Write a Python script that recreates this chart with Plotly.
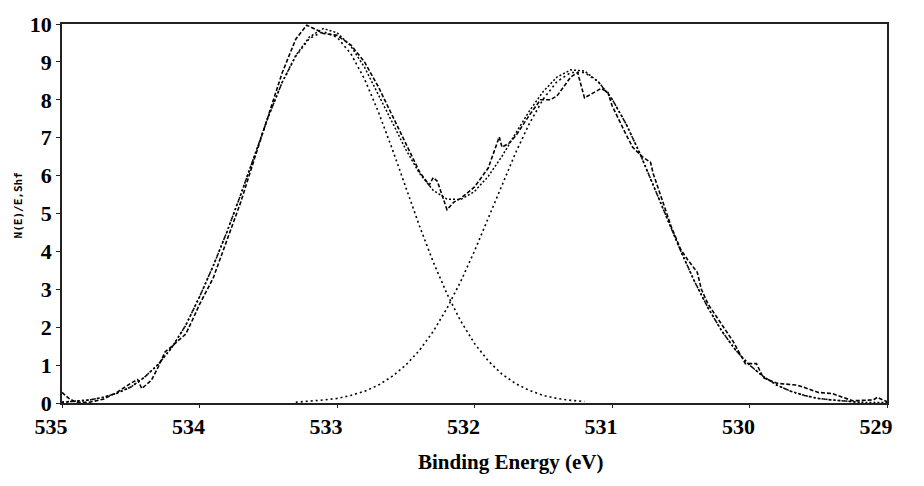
import plotly.graph_objects as go

# O 1s region: binding energy grid (eV) shared by the fitted curves
energy = [535.0, 534.9, 534.8, 534.7, 534.6, 534.5, 534.4, 534.3, 534.2, 534.1,
          534.0, 533.9, 533.8, 533.7, 533.6, 533.5, 533.4, 533.3, 533.2, 533.1,
          533.0, 532.9, 532.8, 532.7, 532.6, 532.5, 532.4, 532.3, 532.2, 532.1,
          532.0, 531.9, 531.8, 531.7, 531.6, 531.5, 531.4, 531.3, 531.2, 531.1,
          531.0, 530.9, 530.8, 530.7, 530.6, 530.5, 530.4, 530.3, 530.2, 530.1,
          530.0, 529.9, 529.8, 529.7, 529.6, 529.5, 529.4, 529.3, 529.2, 529.1,
          529.0]

# High binding-energy component (~533.1 eV)
peak_high = [0.02, 0.04, 0.08, 0.15, 0.26, 0.42, 0.68, 1.02, 1.47, 2.05,
             2.80, 3.62, 4.52, 5.50, 6.55, 7.55, 8.45, 9.15, 9.62, 9.80,
             9.65, 9.22, 8.55, 7.69, 6.72, 5.69, 4.67, 3.72, 2.88, 2.16,
             1.57, 1.11, 0.76, 0.51, 0.33, 0.20, 0.12, 0.07, 0.04, None,
             None, None, None, None, None, None, None, None, None, None,
             None, None, None, None, None, None, None, None, None, None,
             None]

# Low binding-energy component (~531.25 eV)
peak_low = [None, None, None, None, None, None, None, None, None, None,
            None, None, None, None, None, None, None, 0.02, 0.04, 0.08,
            0.12, 0.20, 0.31, 0.47, 0.70, 1.00, 1.39, 1.89, 2.50, 3.21,
            4.01, 4.87, 5.75, 6.61, 7.38, 8.02, 8.48, 8.72, 8.72, 8.48,
            8.02, 7.38, 6.61, 5.75, 4.87, 4.01, 3.21, 2.50, 1.89, 1.39,
            1.00, 0.70, 0.47, 0.31, 0.20, 0.12, 0.08, 0.04, 0.02, None,
            None]

# Fitted envelope
envelope = [0.02, 0.04, 0.08, 0.15, 0.26, 0.42, 0.68, 1.02, 1.47, 2.05,
            2.80, 3.62, 4.52, 5.50, 6.55, 7.55, 8.45, 9.17, 9.66, 9.88,
            9.77, 9.42, 8.86, 8.16, 7.42, 6.69, 6.06, 5.61, 5.38, 5.37,
            5.58, 5.98, 6.51, 7.12, 7.71, 8.22, 8.60, 8.79, 8.76, 8.48,
            8.02, 7.38, 6.61, 5.75, 4.87, 4.01, 3.21, 2.50, 1.89, 1.39,
            1.00, 0.70, 0.47, 0.31, 0.20, 0.12, 0.08, 0.04, 0.02, 0.01,
            0.01]

# Measured spectrum
data_energy = [535.0, 534.95, 534.9, 534.8, 534.7, 534.6, 534.5, 534.45, 534.42, 534.35,
               534.3, 534.25, 534.2, 534.1, 534.05, 534.0, 533.9, 533.8, 533.7, 533.6,
               533.5, 533.4, 533.3, 533.22, 533.15, 533.1, 533.0, 532.9, 532.8, 532.7,
               532.6, 532.5, 532.4, 532.33, 532.3, 532.27, 532.2, 532.15, 532.1, 532.0,
               531.9, 531.82, 531.8, 531.75, 531.7, 531.6, 531.52, 531.45, 531.4, 531.3,
               531.25, 531.2, 531.13, 531.08, 531.03, 531.0, 530.9, 530.85, 530.78, 530.72,
               530.7, 530.65, 530.57, 530.5, 530.45, 530.38, 530.35, 530.3, 530.2, 530.12,
               530.03, 529.95, 529.9, 529.8, 529.65, 529.5, 529.4, 529.3, 529.25, 529.1,
               529.07, 529.03, 529.0]
data_counts = [0.28, 0.12, 0.02, 0.02, 0.10, 0.28, 0.52, 0.62, 0.38, 0.60,
               0.95, 1.35, 1.50, 1.82, 2.20, 2.60, 3.30, 4.30, 5.30, 6.45,
               7.60, 8.70, 9.60, 9.97, 9.85, 9.75, 9.70, 9.45, 9.00, 8.35,
               7.60, 6.85, 6.10, 5.75, 5.95, 5.85, 5.10, 5.30, 5.40, 5.70,
               6.20, 7.02, 6.75, 6.85, 7.05, 7.60, 8.00, 8.00, 8.10, 8.60,
               8.72, 8.05, 8.20, 8.30, 8.20, 7.85, 7.10, 6.75, 6.50, 6.35,
               6.05, 5.50, 4.66, 4.05, 3.78, 3.45, 3.00, 2.60, 2.05, 1.63,
               1.04, 1.04, 0.67, 0.52, 0.47, 0.28, 0.25, 0.12, 0.06, 0.08,
               0.15, 0.08, 0.04]

x_ticks = [535, 534, 533, 532, 531, 530, 529]
y_ticks = [0, 1, 2, 3, 4, 5, 6, 7, 8, 9, 10]

fig = go.Figure()

fig.add_trace(go.Scatter(x=energy, y=peak_high, mode="lines",
                         line=dict(color="black", width=1.6, dash="2px,3px")))
fig.add_trace(go.Scatter(x=energy, y=peak_low, mode="lines",
                         line=dict(color="black", width=1.6, dash="2px,3px")))
fig.add_trace(go.Scatter(x=energy, y=envelope, mode="lines",
                         line=dict(color="black", width=1.5, dash="2px,2px")))
fig.add_trace(go.Scatter(x=data_energy, y=data_counts, mode="lines",
                         line=dict(color="black", width=1.6, dash="4px,2px")))

tick_font = dict(family="Liberation Serif, Times New Roman, serif", size=22, color="black")

fig.update_layout(
    width=924, height=486,
    margin=dict(l=62, r=37, t=18, b=83),
    paper_bgcolor="white", plot_bgcolor="white",
    showlegend=False,
    font=dict(family="Liberation Serif, serif", color="black"),
    xaxis=dict(
        range=[535, 529], tickvals=x_ticks, ticktext=[f"<b>{v}</b>" for v in x_ticks],
        tickfont=tick_font, showgrid=False, zeroline=False,
        showline=True, linecolor="#222", linewidth=1.5, mirror=True,
        ticks="outside", ticklen=3, tickcolor="#222", ticklabelshift=11,
    ),
    yaxis=dict(
        range=[0, 10], tickvals=y_ticks, ticktext=[f"<b>{v}</b>" for v in y_ticks],
        tickfont=tick_font, showgrid=False, zeroline=False,
        showline=True, linecolor="#222", linewidth=1.5, mirror=True,
        ticks="outside", ticklen=4, tickcolor="#222",
    ),
    annotations=[
        dict(text="<b>Binding Energy (eV)</b>", xref="paper", yref="paper",
             x=0.544, y=-0.155, xanchor="center", yanchor="middle", showarrow=False,
             font=dict(family="Liberation Serif, Times New Roman, serif", size=21, color="black")),
        dict(text="<b>N(E)/E,Shf</b>", xref="paper", yref="paper",
             x=-0.053, y=0.522, xanchor="center", yanchor="middle", showarrow=False,
             textangle=-90,
             font=dict(family="DejaVu Sans Mono, monospace", size=11, color="black")),
    ],
)

fig.write_html("out.html")
